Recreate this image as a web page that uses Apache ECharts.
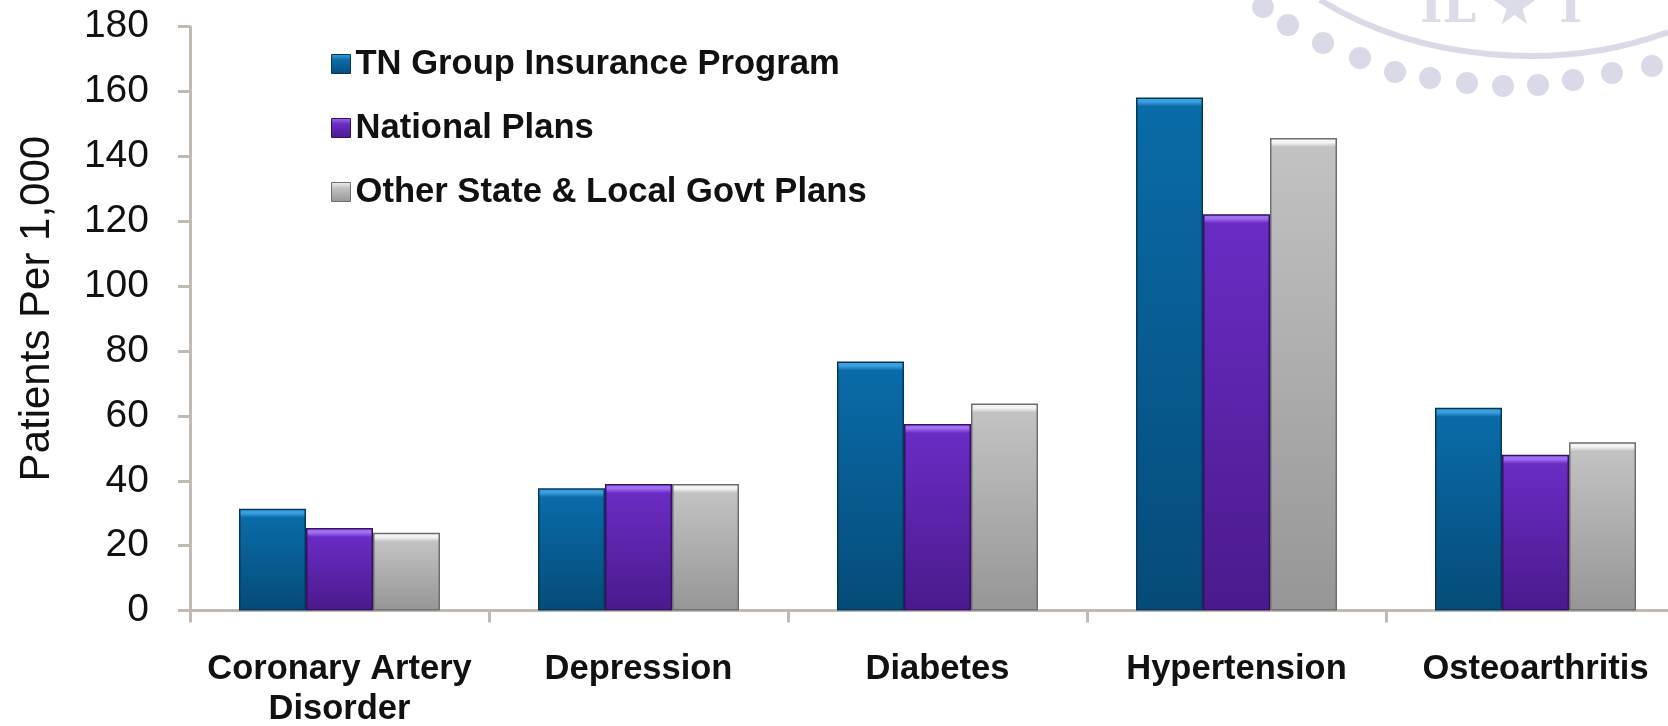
<!DOCTYPE html>
<html>
<head>
<meta charset="utf-8">
<script src="https://cdn.jsdelivr.net/npm/echarts@6/dist/echarts.min.js"></script>
<style>
html,body{margin:0;padding:0;background:#fff;}
#chart{width:1668px;height:726px;}
</style>
</head>
<body>
<div id="chart"></div>
<script>
const categories = ['Coronary Artery\nDisorder', 'Depression', 'Diabetes', 'Hypertension', 'Osteoarthritis'];
const seriesNames = ['TN Group Insurance Program', 'National Plans', 'Other State & Local Govt Plans'];
const tnGroup = [31.4, 37.7, 76.8, 158.2, 62.5];
const nationalPlans = [25.4, 39.0, 57.5, 122.2, 48.0];
const otherStateLocal = [24.0, 39.0, 63.8, 145.7, 51.9];
const yTicks = { min: 0, max: 180, interval: 20 };
const yTitle = 'Patients Per 1,000';

const GRID_TOP = 26.7, GRID_BOTTOM = 115.5, H = 726;
const plotH = H - GRID_TOP - GRID_BOTTOM;
const pxPerUnit = plotH / (yTicks.max - yTicks.min);

const palettes = [
  { hi: '#3c9fe0', top: '#0a6ba8', bot: '#054b78', border: '#03385a' },
  { hi: '#a06ef2', top: '#6a2cc4', bot: '#4a1a8c', border: '#351066' },
  { hi: '#f4f4f4', top: '#c2c2c2', bot: '#969696', border: '#6e6e6e' }
];
function barGrad(p, v) {
  const h = Math.max(v * pxPerUnit, 1);
  const s = Math.min(9 / h, 0.5);
  return new echarts.graphic.LinearGradient(0, 0, 0, 1, [
    { offset: 0, color: p.hi },
    { offset: s * 0.5, color: p.hi },
    { offset: s, color: p.top },
    { offset: 1, color: p.bot }
  ]);
}
function legendGrad(p) {
  return new echarts.graphic.LinearGradient(0, 0, 0, 1, [
    { offset: 0, color: p.hi }, { offset: 0.3, color: p.top }, { offset: 1, color: p.bot }
  ]);
}
const dataSets = [tnGroup, nationalPlans, otherStateLocal];

const chart = echarts.init(document.getElementById('chart'), null, { renderer: 'canvas' });

// faint seal watermark decoration (top right)
const dots = [[1263,7],[1288,25],[1323,43],[1360,58],[1395,72],[1430,78],[1467,83],[1503,86],[1538,85],[1573,80],[1612,73],[1652,66]];
const wm = dots.map(d => ({ type: 'circle', shape: { cx: d[0], cy: d[1], r: 11 }, style: { fill: '#d9d9e7' }, silent: true, z: -1 }));
wm.push({ type: 'bezierCurve', shape: { x1: 1320, y1: 0, cpx1: 1420, cpy1: 62, cpx2: 1560, cpy2: 72, x2: 1668, y2: 32 }, style: { stroke: '#d9d9e7', lineWidth: 6, fill: null }, silent: true, z: -1 });
wm.push({ type: 'text', style: { text: 'IL \u2605 T', x: 1420, y: -14, fill: '#dcdce8', font: 'bold 48px "DejaVu Serif", serif' }, silent: true, z: -1 });

chart.setOption({
  animation: false,
  backgroundColor: '#ffffff',
  graphic: wm,
  grid: { left: 190, right: -17, top: GRID_TOP, bottom: GRID_BOTTOM, containLabel: false, outerBoundsMode: 'none' },
  legend: {
    orient: 'vertical',
    left: 326,
    top: 39,
    itemWidth: 19,
    itemHeight: 19,
    itemGap: 24,
    icon: 'rect',
    data: seriesNames.map((n, i) => ({ name: n, itemStyle: { color: legendGrad(palettes[i]), borderColor: palettes[i].border, borderWidth: 1 } })),
    textStyle: { fontFamily: '"Liberation Sans", Arial, sans-serif', fontWeight: 'bold', fontSize: 34.6, color: '#111', lineHeight: 40 }
  },
  xAxis: {
    type: 'category',
    data: categories,
    boundaryGap: true,
    axisLine: { lineStyle: { color: '#c0bab3', width: 3 } },
    axisTick: { show: true, alignWithLabel: false, length: 12, lineStyle: { color: '#c0bab3', width: 3 } },
    axisLabel: { interval: 0, margin: 39, fontFamily: '"Liberation Sans", Arial, sans-serif', fontWeight: 'bold', fontSize: 34.5, color: '#111', lineHeight: 40 }
  },
  yAxis: {
    type: 'value',
    min: yTicks.min, max: yTicks.max, interval: yTicks.interval,
    name: yTitle,
    nameLocation: 'middle',
    nameGap: 132,
    nameTextStyle: { fontFamily: '"Liberation Sans", Arial, sans-serif', fontSize: 42, color: '#111', padding: [0, 0, 0, 20] },
    axisLine: { show: true, lineStyle: { color: '#c0bab3', width: 3 } },
    axisTick: { show: true, length: 12, lineStyle: { color: '#c0bab3', width: 3 } },
    splitLine: { show: false },
    axisLabel: { margin: 41, fontFamily: '"Liberation Sans", Arial, sans-serif', fontSize: 39, color: '#111' }
  },
  series: seriesNames.map((n, i) => ({
    name: n,
    type: 'bar',
    barWidth: 67,
    barGap: '0%',
    itemStyle: { color: palettes[i].top, borderColor: palettes[i].border, borderWidth: 1.5 },
    data: dataSets[i].map(v => ({ value: v, itemStyle: { color: barGrad(palettes[i], v) } }))
  }))
});
</script>
</body>
</html>
